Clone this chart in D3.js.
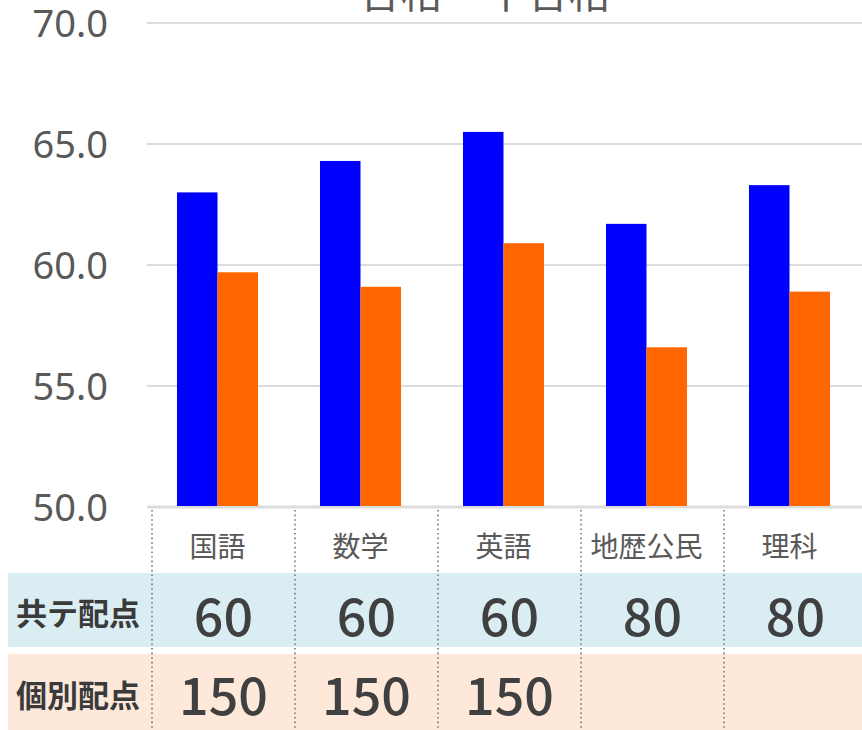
<!DOCTYPE html>
<html>
<head>
<meta charset="utf-8">
<script src="https://cdn.jsdelivr.net/npm/d3@7"></script>
<style>
  body { margin: 0; background: #fff; }
  svg { display: block; font-family: "Noto Sans CJK JP", "Noto Sans", sans-serif; }
</style>
</head>
<body>
<svg id="chart" width="862" height="730"></svg>
<script>
// data
const subjects = ["国語", "数学", "英語", "地歴公民", "理科"];
const seriesNames = ["合格", "不合格"];
const passScores = [63.0, 64.3, 65.5, 61.7, 63.3];
const failScores = [59.7, 59.1, 60.9, 56.6, 58.9];
const yTicks = [50, 55, 60, 65, 70];
const rowLabels = ["共テ配点", "個別配点"];
const commonPoints = ["60", "60", "60", "80", "80"];
const individualPoints = ["150", "150", "150", "", ""];

const COLORS = ["#0000ff", "#ff6600"];
const ROW_FILLS = ["#daedf3", "#fde8da"];
const TEXT = "#595959";

const svg = d3.select("#chart");

const x0 = d3.scaleBand().domain(subjects).range([146, 861]);
const x1 = d3.scaleBand().domain(seriesNames)
    .range([0, x0.bandwidth()])
    .paddingInner(0)
    .paddingOuter(0.765);
const y = d3.scaleLinear().domain([50, 70]).range([507, 23]);

//title, mostly cut off at the top edge
svg.append("text")
    .attr("x", 485)
    .attr("y", 8)
    .attr("text-anchor", "middle")
    .style("font-size", "42px")
    .style("fill", TEXT)
    .text("合格・不合格");

//grid lines
svg.append("g")
    .selectAll("line")
    .data(yTicks)
    .join("line")
    .attr("x1", 147)
    .attr("x2", 862)
    .attr("y1", d => y(d))
    .attr("y2", d => y(d))
    .style("stroke", "#dcdcdc")
    .style("stroke-width", d => d === 50 ? 3 : 2);

//y axis labels
const yAxis = svg.append("g")
    .attr("transform", "translate(108,0)")
    .call(d3.axisLeft(y).tickValues(yTicks).tickFormat(d3.format(".1f")).tickSize(0).tickPadding(0));
yAxis.select(".domain").remove();
yAxis.selectAll("text")
    .attr("dy", "0.35em")
    .style("font-family", "'Noto Sans', sans-serif")
    .style("font-size", "38px")
    .style("fill", TEXT);

//bars
const rows = subjects.map((s, i) => ({ subject: s, values: [passScores[i], failScores[i]] }));
svg.append("g")
    .selectAll("g")
    .data(rows)
    .join("g")
    .attr("transform", d => `translate(${x0(d.subject)},0)`)
    .selectAll("rect")
    .data(d => d.values.map((v, j) => ({ key: seriesNames[j], value: v, idx: j })))
    .join("rect")
    .attr("x", d => x1(d.key))
    .attr("width", x1.bandwidth())
    .attr("y", d => y(d.value))
    .attr("height", d => y(50) - y(d.value) - 1)
    .style("fill", d => COLORS[d.idx]);

//category labels
svg.append("g")
    .selectAll("text")
    .data(subjects)
    .join("text")
    .attr("x", d => x0(d) + x0.bandwidth() / 2)
    .attr("y", 545)
    .attr("text-anchor", "middle")
    .attr("dominant-baseline", "central")
    .style("font-size", "28px")
    .style("fill", TEXT)
    .text(d => d);

//table rows
const COL_SHIFT = 6;
const rowBands = [{ top: 573, bottom: 647 }, { top: 654, bottom: 730 }];
const rowValues = [commonPoints, individualPoints];
const valueNudge = [3, 0];

svg.append("g")
    .selectAll("rect")
    .data(rowBands)
    .join("rect")
    .attr("x", 8)
    .attr("y", d => d.top)
    .attr("width", 862 - 8)
    .attr("height", d => d.bottom - d.top)
    .style("fill", (d, i) => ROW_FILLS[i]);

svg.append("g")
    .selectAll("text")
    .data(rowLabels)
    .join("text")
    .attr("x", 78)
    .attr("y", (d, i) => (rowBands[i].top + rowBands[i].bottom) / 2 + 1)
    .attr("text-anchor", "middle")
    .attr("dominant-baseline", "central")
    .style("font-size", "31px")
    .style("font-weight", "bold")
    .style("fill", "#3a3a3a")
    .text(d => d);

rowValues.forEach((vals, r) => {
    svg.append("g")
        .selectAll("text")
        .data(vals)
        .join("text")
        .attr("x", (d, i) => x0(subjects[i]) + COL_SHIFT + x0.bandwidth() / 2)
        .attr("y", (rowBands[r].top + rowBands[r].bottom) / 2 + valueNudge[r])
        .attr("text-anchor", "middle")
        .attr("dominant-baseline", "central")
        .style("font-size", "52px")
        .style("font-weight", "500")
        .style("fill", "#404040")
        .text(d => d);
});

//dotted column separators
svg.append("g")
    .selectAll("line")
    .data(subjects)
    .join("line")
    .attr("x1", d => x0(d) + COL_SHIFT)
    .attr("x2", d => x0(d) + COL_SHIFT)
    .attr("y1", 510)
    .attr("y2", 730)
    .style("stroke", "#777")
    .style("stroke-width", 1.6)
    .style("stroke-dasharray", "1.6,3");
</script>
</body>
</html>
